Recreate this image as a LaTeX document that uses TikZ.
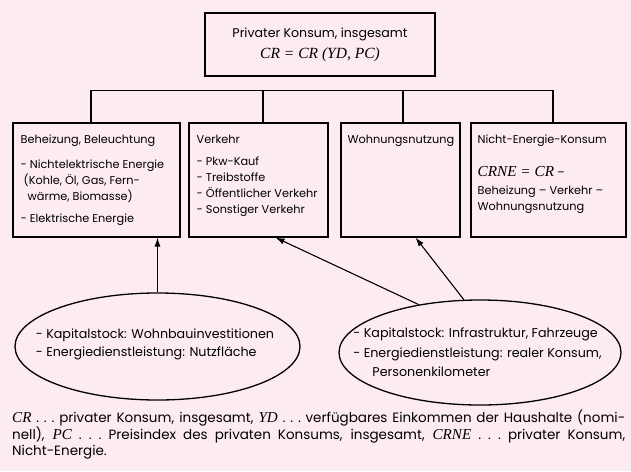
\documentclass[tikz,border=0pt]{standalone}
\usepackage{fontspec}
\setmainfont{Poppins}
\newfontfamily\timesfont{Liberation Serif}[Scale=1.35]
\newfontfamily\timesfoot{Liberation Serif}[Scale=1.12]
\usetikzlibrary{positioning,shapes.geometric,arrows.meta}
\definecolor{bgpink}{RGB}{252,236,241}
\newcommand{\vname}[1]{{\timesfont\itshape #1}}
\newcommand{\fname}[1]{{\timesfoot\itshape #1}}
\begin{document}
\begin{tikzpicture}[x=1pt,y=-1pt,
    box/.style = {draw, line width=1.1pt, rectangle,
        minimum height=114pt, inner sep=0pt},
    lbl/.style = {anchor=north west, align=left, inner sep=0pt,
        font=\fontsize{11.3}{16}\selectfont},
    oval/.style = {draw, ellipse, line width=1.3pt, inner sep=0pt},
    ovaltxt/.style = {align=left, inner sep=0pt,
        font=\fontsize{12.7}{16}\selectfont},
    pfeil/.style = {-{Latex[length=9pt,width=6pt]}, line width=1.1pt},
    ast/.style = {line width=1.1pt}
  ]
\fill[bgpink] (0,0) rectangle (631,471);
\useasboundingbox (0,0) rectangle (631,471);
% oberste Ebene
\node[box, minimum width=230pt, minimum height=63pt, align=center,
      font=\fontsize{12.6}{21}\selectfont] (total) at (320,44.5)
    {Privater Konsum, insgesamt\\
     {\fontsize{11.5}{21}\selectfont\vname{CR = CR (YD, PC)}}};
% Verwendungszwecke
\node[box, minimum width=167pt] (heiz) at (96.5,180) {};
\node[box, minimum width=139pt] (verk) at (258.5,180) {};
\node[box, minimum width=119pt] (wohn) at (400.5,180) {};
\node[box, minimum width=155pt] (rest) at (548.5,180) {};
\node[lbl] (heiztxt) at ([shift={(8,12)}]heiz.north west)
    {Beheizung, Beleuchtung\\[9pt]
     - Nichtelektrische Energie\\
     \hspace{3pt}(Kohle, Öl, Gas, Fern-\\
     \hspace{7pt}wärme, Biomasse)\\[6pt]
     - Elektrische Energie};
\node[lbl] (verktxt) at ([shift={(8,12)}]verk.north west)
    {Verkehr\\[6pt]
     - Pkw-Kauf\\
     - Treibstoffe\\
     - Öffentlicher Verkehr\\
     - Sonstiger Verkehr};
\node[lbl] (wohntxt) at ([shift={(7,12)}]wohn.north west)
    {Wohnungsnutzung};
\node[lbl] (resttxt) at ([shift={(7,12)}]rest.north west)
    {Nicht-Energie-Konsum\\[17pt]
     \vname{CRNE = CR} –\\[2pt]
     Beheizung – Verkehr –\\
     Wohnungsnutzung};
\draw[ast] ([xshift=-5.5pt]heiz.north) -- ++(0,-32) -| ([xshift=4.5pt]rest.north);
\draw[ast] ([xshift=4.5pt]verk.north) -- ++(0,-32);
\draw[ast] ([xshift=2.5pt]wohn.north) -- ++(0,-32);
% Bestimmungsgroessen
\node[oval, minimum width=285pt, minimum height=107pt] (wbau) at (157.5,346.5) {};
\node[oval, minimum width=282pt, minimum height=105pt] (infra) at (480,352.5) {};
\node[ovaltxt] (wbautxt) at ([shift={(-2.5,-2)}]wbau.center)
    {- Kapitalstock: Wohnbauinvestitionen\\[2pt]
     - Energiedienstleistung: Nutzfläche};
\node[ovaltxt] (infratxt) at ([xshift=-2.5pt]infra.center)
    {- Kapitalstock: Infrastruktur, Fahrzeuge\\[3.5pt]
     - Energiedienstleistung: realer Konsum,\\[3.5pt]
     \hspace{19pt}Personenkilometer};
\draw[pfeil] (wbau.north) -- (wbau.north |- heiz.south);
\draw[pfeil] (infra.142.5) -- ([xshift=17pt]verk.south);
\draw[pfeil] (infra.107) -- ([xshift=15pt]wohn.south);
% Legende
\node[anchor=north west, inner sep=0pt, text width=613pt, align=justify,
      font=\fontsize{13.5}{16.5}\selectfont] (legende) at (12,410)
    {\fname{CR}\ .\ .\ .\ privater Konsum, insgesamt, \fname{YD}\ .\ .\ .\ verfügbares Einkommen der Haushalte (nomi-\linebreak
     nell), \fname{PC}\ .\ .\ .\ Preisindex des privaten Konsums, insgesamt, \fname{CRNE}\ .\ .\ .\ privater Konsum,\linebreak
     Nicht-Energie.};
\end{tikzpicture}
\end{document}
